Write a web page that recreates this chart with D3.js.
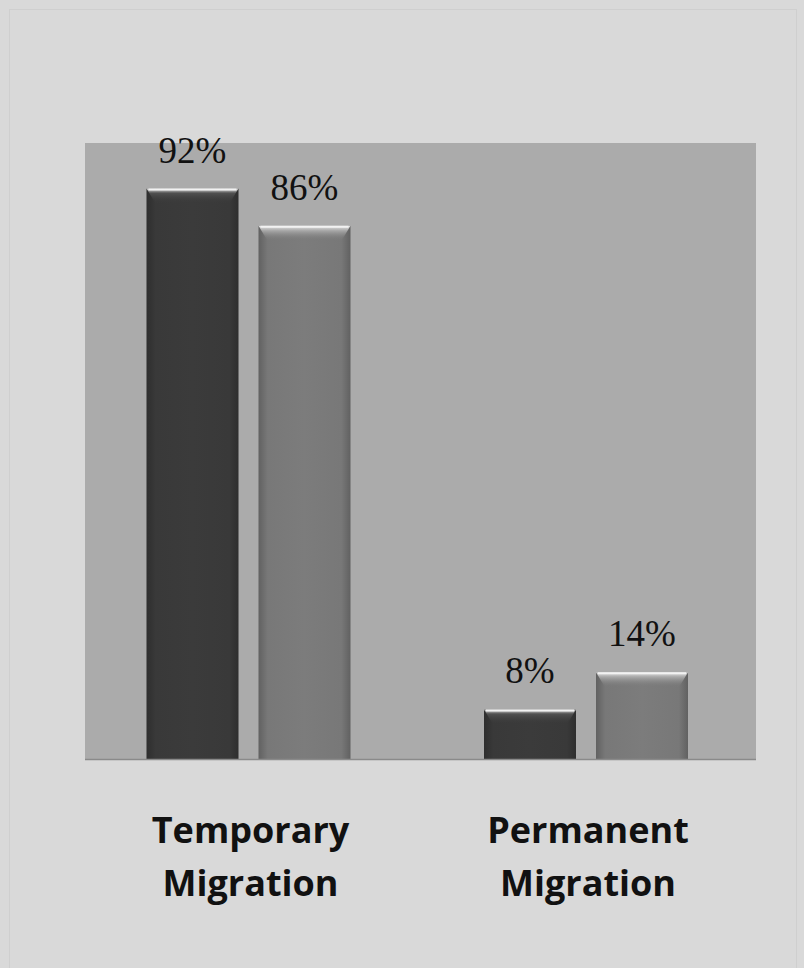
<!DOCTYPE html>
<html><head><meta charset="utf-8">
<script src="https://cdn.jsdelivr.net/npm/d3@7"></script>
<style>body{margin:0;background:#d9d9d9}svg{display:block}</style>
</head><body>
<script>
const categories = ["Temporary\nMigration", "Permanent\nMigration"];
const seriesNames = ["Series A", "Series B"];
const seriesA = [92, 8];
const seriesB = [86, 14];
const valueLabels = [["92%", "86%"], ["8%", "14%"]];

const W = 804, H = 968;
const plot = {x0: 85, x1: 756, top: 143, base: 759};
const colors = ["#393939", "#787878"];

const svg = d3.select("body").append("svg").attr("width", W).attr("height", H);
svg.append("rect").attr("width", W).attr("height", H).attr("fill", "#d9d9d9");
svg.append("rect").attr("x", 9.5).attr("y", 9.5).attr("width", 787).attr("height", 960)
  .attr("fill", "none").attr("stroke", "#cfcfcf").attr("stroke-width", 1);

svg.append("rect").attr("x", plot.x0).attr("y", plot.top).attr("width", plot.x1 - plot.x0)
  .attr("height", plot.base - plot.top).attr("fill", "#ababab");

const x0 = d3.scaleBand().domain(d3.range(categories.length)).range([79.75, 754.75]).padding(0);
const x1 = d3.scaleBand().domain([0, 1]).range([0, x0.bandwidth()]).paddingInner(0.1786).paddingOuter(0.596);
const y = d3.scaleLinear().domain([0, 100]).range([plot.base, plot.base - 620]);

const defs = svg.append("defs");
colors.forEach((c, i) => {
  const g = defs.append("linearGradient").attr("id", "hg" + i).attr("x1", 0).attr("x2", 1).attr("y1", 0).attr("y2", 0);
  const dk = d3.color(c).darker(0.6), lt = d3.color(c).brighter(0.1);
  g.append("stop").attr("offset", 0).attr("stop-color", dk);
  g.append("stop").attr("offset", 0.1).attr("stop-color", c);
  g.append("stop").attr("offset", 0.5).attr("stop-color", lt);
  g.append("stop").attr("offset", 0.9).attr("stop-color", c);
  g.append("stop").attr("offset", 1).attr("stop-color", dk);
  const v = defs.append("linearGradient").attr("id", "vg" + i).attr("x1", 0).attr("x2", 0).attr("y1", 0).attr("y2", 1);
  v.append("stop").attr("offset", 0).attr("stop-color", "#e6e6e6");
  v.append("stop").attr("offset", 0.3).attr("stop-color", d3.color(c).brighter(1.0));
  v.append("stop").attr("offset", 1).attr("stop-color", c).attr("stop-opacity", 0);
});

const data = [];
categories.forEach((cat, ci) => {
  [seriesA[ci], seriesB[ci]].forEach((v, si) => {
    data.push({ci, si, v, label: valueLabels[ci][si]});
  });
});

const g = svg.append("g");
const bars = g.selectAll("g.bar").data(data).join("g").attr("class", "bar");
bars.append("rect")
  .attr("x", d => x0(d.ci) + x1(d.si))
  .attr("y", d => y(d.v))
  .attr("width", x1.bandwidth())
  .attr("height", d => y(0) - y(d.v))
  .attr("fill", d => `url(#hg${d.si})`);
bars.append("path")
  .attr("d", d => {
    const xl = x0(d.ci) + x1(d.si), xr = xl + x1.bandwidth(), t = y(d.v), b = 15;
    return `M${xl},${t}L${xr},${t}L${xr - 9},${t + b}L${xl + 9},${t + b}Z`;
  })
  .attr("fill", d => `url(#vg${d.si})`);
bars.append("line")
  .attr("x1", d => x0(d.ci) + x1(d.si) + 2)
  .attr("x2", d => x0(d.ci) + x1(d.si) + x1.bandwidth() - 2)
  .attr("y1", d => y(d.v) + 1).attr("y2", d => y(d.v) + 1)
  .attr("stroke", "#f2f2f2").attr("stroke-width", 2);

bars.append("text")
  .attr("x", d => x0(d.ci) + x1(d.si) + x1.bandwidth() / 2)
  .attr("y", d => y(d.v) - 26)
  .attr("text-anchor", "middle")
  .attr("font-family", "'Liberation Serif', 'DejaVu Serif', serif")
  .attr("font-size", 37)
  .attr("fill", "#111")
  .text(d => d.label);

svg.append("line").attr("x1", plot.x0).attr("x2", plot.x1).attr("y1", plot.base + 0.5).attr("y2", plot.base + 0.5)
  .attr("stroke", "#8a8a8a").attr("stroke-width", 1.5);

const cl = svg.selectAll("text.cat").data(categories).join("text").attr("class", "cat")
  .attr("text-anchor", "middle")
  .attr("font-family", "'Open Sans', 'Liberation Sans', sans-serif")
  .attr("font-weight", "bold")
  .attr("font-size", 36)
  .attr("fill", "#111");
cl.each(function(d, i) {
  const cx = x0(i) + x0.bandwidth() / 2 + 2;
  d.split("\n").forEach((line, li) => {
    d3.select(this).append("tspan").attr("x", cx).attr("y", 843 + li * 53).text(line);
  });
});
</script>
</body></html>
